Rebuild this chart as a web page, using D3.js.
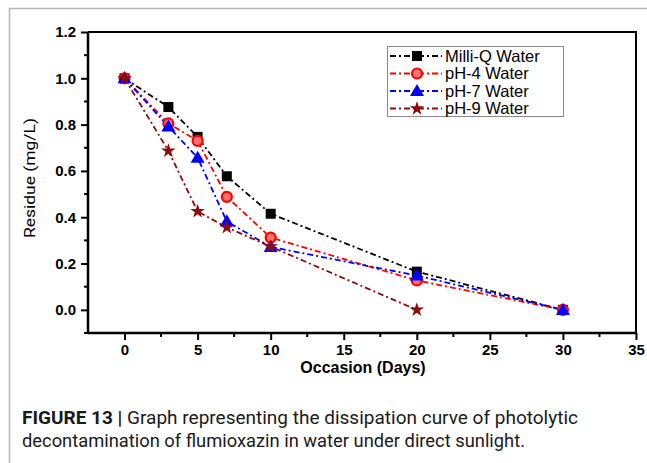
<!DOCTYPE html>
<html><head><meta charset="utf-8">
<script src="https://cdn.jsdelivr.net/npm/d3@7"></script>
<style>html,body{margin:0;padding:0;background:#fff;}svg{display:block;}</style>
</head><body>
<script>
const days = [0, 3, 5, 7, 10, 20, 30];
const milliQ = [1.0, 0.876, 0.747, 0.577, 0.415, 0.165, 0.0];
const ph4 = [1.0, 0.805, 0.730, 0.488, 0.312, 0.127, 0.0];
const ph7 = [1.0, 0.792, 0.657, 0.382, 0.272, 0.148, 0.0];
const days9 = [0, 3, 5, 7, 10, 20];
const ph9 = [1.0, 0.687, 0.425, 0.356, 0.273, 0.0];
const seriesNames = ["Milli-Q Water", "pH-4 Water", "pH-7 Water", "pH-9 Water"];
const xTicks = [0, 5, 10, 15, 20, 25, 30, 35];
const yTicks = [0.0, 0.2, 0.4, 0.6, 0.8, 1.0, 1.2];

const W = 647, H = 463;
const svg = d3.select("body").append("svg").attr("width", W).attr("height", H);
svg.append("rect").attr("width", W).attr("height", H).attr("fill", "#fff");
// figure border
svg.append("path").attr("d", `M9.5,${H} V8.5 H${W}`).attr("fill", "none").attr("stroke", "#b5b5b5").attr("stroke-width", 1.5);

const L = 88, R = 636, T = 32, B = 333;
const x = d3.scaleLinear().domain([-2.5, 35]).range([L, R]);
const y = d3.scaleLinear().domain([-0.1, 1.2]).range([B, T]);

const series = [
  {name: seriesNames[0], xs: days, ys: milliQ, color: "#000000", sym: "square"},
  {name: seriesNames[1], xs: days, ys: ph4, color: "#ff0000", sym: "circle"},
  {name: seriesNames[2], xs: days, ys: ph7, color: "#0000ff", sym: "triangle"},
  {name: seriesNames[3], xs: days9, ys: ph9, color: "#8b0a0a", sym: "star"},
];

const dash = "6,3,2,3";
const line = d3.line().x(d => x(d[0])).y(d => y(d[1]));

function marker(g, s, cx, cy) {
  if (s.sym === "square") {
    g.append("rect").attr("x", cx - 5).attr("y", cy - 5).attr("width", 10).attr("height", 10).attr("fill", s.color);
  } else if (s.sym === "circle") {
    g.append("circle").attr("cx", cx).attr("cy", cy).attr("r", 5).attr("fill", "#ff7070").attr("stroke", s.color).attr("stroke-width", 2.2);
  } else if (s.sym === "triangle") {
    g.append("path").attr("d", d3.symbol(d3.symbolTriangle, 85)()).attr("transform", `translate(${cx},${cy + 1})`).attr("fill", s.color);
  } else {
    g.append("path").attr("d", d3.symbol(d3.symbolStar, 65)()).attr("transform", `translate(${cx},${cy})`).attr("fill", s.color);
  }
}

const plot = svg.append("g");
series.forEach(s => {
  const pts = s.xs.map((d, i) => [d, s.ys[i]]);
  plot.append("path").attr("d", line(pts)).attr("fill", "none").attr("stroke", s.color)
    .attr("stroke-width", 1.8).attr("stroke-dasharray", dash);
});
series.forEach(s => {
  const g = plot.append("g");
  s.xs.forEach((d, i) => marker(g, s, x(d), y(s.ys[i])));
});

// frame
svg.append("path").attr("d", `M${L},${T} H${R} V${B}`).attr("fill", "none").attr("stroke", "#000").attr("stroke-width", 2);

// axes
const xAxis = d3.axisBottom(x).tickValues(xTicks).tickFormat(d3.format("d")).tickSize(7).tickPadding(4);
const gx = svg.append("g").attr("transform", `translate(0,${B})`).call(xAxis);
const xMinor = d3.range(2.5, 35, 5);
gx.selectAll(".minor").data(xMinor).enter().append("line").attr("class", "minor")
  .attr("x1", d => x(d)).attr("x2", d => x(d)).attr("y1", 0).attr("y2", 4).attr("stroke", "#000").attr("stroke-width", 2);

const yAxis = d3.axisLeft(y).tickValues(yTicks).tickFormat(d3.format(".1f")).tickSize(7).tickPadding(5);
const gy = svg.append("g").attr("transform", `translate(${L},0)`).call(yAxis);
const yMinor = [-0.1, 0.1, 0.3, 0.5, 0.7, 0.9, 1.1];
gy.selectAll(".minor").data(yMinor).enter().append("line").attr("class", "minor")
  .attr("y1", d => y(d)).attr("y2", d => y(d)).attr("x1", 0).attr("x2", -4).attr("stroke", "#000").attr("stroke-width", 2);

[gx, gy].forEach(g => {
  g.select(".domain").attr("stroke", "#000").attr("stroke-width", 2.5);
  g.selectAll(".tick line").attr("stroke", "#000").attr("stroke-width", 2);
  g.selectAll(".tick text").attr("fill", "#000").style("font-family", "Liberation Sans, Arial, sans-serif")
    .style("font-size", "15px").style("font-weight", "bold");
});
gx.select(".domain").attr("d", `M${L},0H${R}`);
gy.select(".domain").attr("d", `M0,${T}V${B}`);

// axis titles
svg.append("text").attr("x", 363).attr("y", 373).attr("text-anchor", "middle")
  .style("font-family", "Liberation Sans, Arial, sans-serif").style("font-size", "16px").style("font-weight", "bold")
  .text("Occasion (Days)");
svg.append("text").attr("transform", "translate(35,178) rotate(-90)").attr("text-anchor", "middle")
  .style("font-family", "Roboto, Liberation Sans, sans-serif").style("font-size", "15px")
  .attr("textLength", 120).attr("lengthAdjust", "spacingAndGlyphs")
  .text("Residue (mg/L)");

// legend
const lg = svg.append("g");
lg.append("rect").attr("x", 387.5).attr("y", 46.5).attr("width", 176).attr("height", 70)
  .attr("fill", "#fff").attr("stroke", "#8a8a8a").attr("stroke-width", 1);
series.forEach((s, i) => {
  const yy = 56 + i * 17.5;
  lg.append("path").attr("d", `M390,${yy} H442`).attr("stroke", s.color).attr("stroke-width", 1.8)
    .attr("stroke-dasharray", dash).attr("fill", "none");
  marker(lg, s, 417, yy);
  lg.append("text").attr("x", 445).attr("y", yy + 5.5).style("font-family", "Liberation Sans, Arial, sans-serif")
    .style("font-size", "16.5px").attr("fill", "#000").text(s.name);
});

// caption
const cap = svg.append("g").style("font-family", "Roboto, Liberation Sans, sans-serif").style("font-size", "17.5px").attr("fill", "#1a1a1a");
const t1 = cap.append("text").attr("x", 22).attr("y", 424).attr("textLength", 556).attr("lengthAdjust", "spacingAndGlyphs");
t1.append("tspan").style("font-weight", "bold").text("FIGURE 13 | ");
t1.append("tspan").style("font-weight", "normal").text("Graph representing the dissipation curve of photolytic");
cap.append("text").attr("x", 22).attr("y", 447).attr("textLength", 503).attr("lengthAdjust", "spacingAndGlyphs")
  .style("font-weight", "normal").text("decontamination of flumioxazin in water under direct sunlight.");
</script>
</body></html>
